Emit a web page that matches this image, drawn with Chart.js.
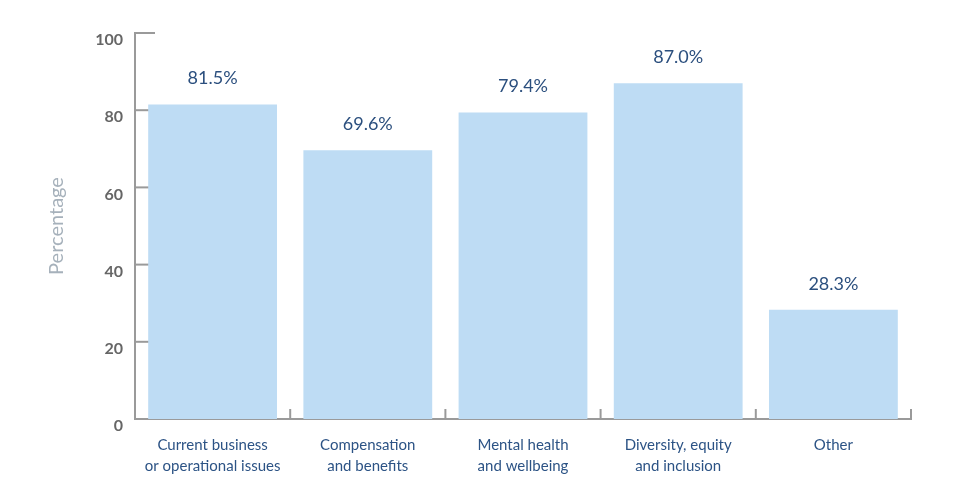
<!DOCTYPE html>
<html><head><meta charset="utf-8">
<script src="https://cdn.jsdelivr.net/npm/chart.js@4"></script>
<style>html,body{margin:0;padding:0;background:#fff}#wrap{width:980px;height:503px}</style>
</head><body><div id="wrap"><canvas id="c" width="980" height="503"></canvas></div>
<script>
const categories = [["Current business","or operational issues"],["Compensation","and benefits"],["Mental health","and wellbeing"],["Diversity, equity","and inclusion"],["Other"]];
const values = [81.5, 69.6, 79.4, 87.0, 28.3];
const valueLabels = ["81.5%","69.6%","79.4%","87.0%","28.3%"];
const yTicks = [0,20,40,60,80,100];

const AXIS = '#9a9a9a';
const innerTicks = {
  id:'innerTicks',
  beforeDatasetsDraw(chart){
    const ctx = chart.ctx, x = chart.scales.x, y = chart.scales.y;
    const a = chart.chartArea;
    ctx.save();
    ctx.strokeStyle = AXIS; ctx.lineWidth = 2;
    yTicks.forEach(v=>{
      const py = y.getPixelForValue(v);
      ctx.beginPath(); ctx.moveTo(a.left, py); ctx.lineTo(a.left+20, py); ctx.stroke();
    });
    for(let i=0;i<categories.length;i++){
      const px = x.getPixelForValue(i) + (x.getPixelForValue(1)-x.getPixelForValue(0))/2;
      ctx.beginPath(); ctx.moveTo(px, a.bottom); ctx.lineTo(px, a.bottom-10); ctx.stroke();
    }
    ctx.restore();
  },
  afterDatasetsDraw(chart){
    const ctx = chart.ctx, meta = chart.getDatasetMeta(0);
    ctx.save();
    ctx.fillStyle = '#2b4f7e';
    ctx.font = '18px Lato';
    ctx.textAlign = 'center'; ctx.textBaseline = 'middle';
    meta.data.forEach((b,i)=>{ ctx.fillText(valueLabels[i], b.x, b.y-26); });
    ctx.restore();
  }
};

new Chart(document.getElementById('c'), {
  type:'bar',
  data:{labels:categories, datasets:[{data:values, backgroundColor:'#bedcf4', barPercentage:0.83, categoryPercentage:1.0}]},
  options:{
    responsive:false, animation:false,
    layout:{padding:{top:33, right:69, left:0, bottom:0}},
    plugins:{legend:{display:false}, tooltip:{enabled:false}},
    scales:{
      x:{
        grid:{display:false, drawTicks:false},
        border:{display:true, color:AXIS, width:2},
        ticks:{color:'#2c5385', font:{family:'Lato', size:15, lineHeight:1.45}, padding:15},
        afterFit(s){ s.height = 503-419; }
      },
      y:{
        min:0, max:100,
        grid:{display:false, drawTicks:false},
        border:{display:true, color:AXIS, width:2},
        ticks:{stepSize:20, color:'#666', font:{family:'Lato', size:16, weight:'bold'}, padding:12, labelOffset:7},
        title:{display:true, text:'Percentage', color:'#a6b1bb', font:{family:'Lato', size:20}, padding:{top:45,bottom:0}},
        afterFit(s){ s.width = 135; }
      }
    }
  },
  plugins:[innerTicks]
});
</script></body></html>
